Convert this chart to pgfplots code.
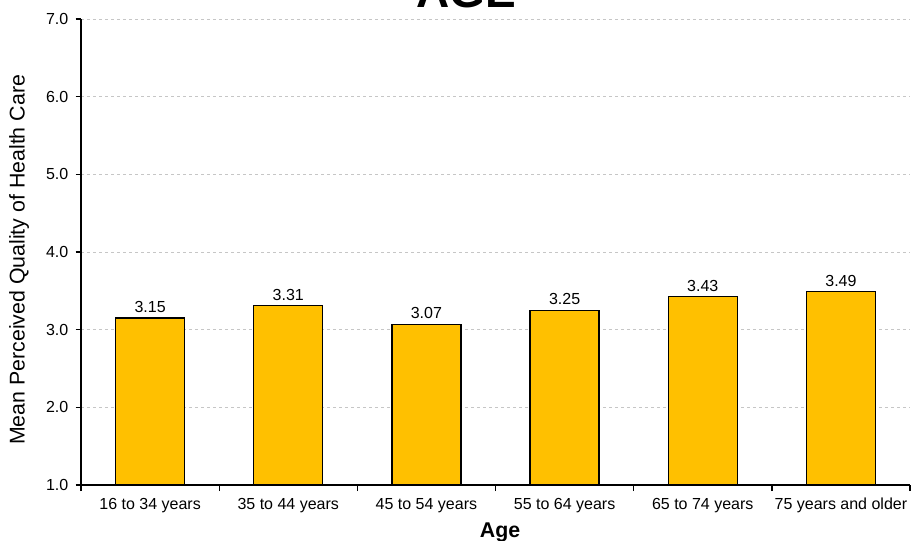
\documentclass[border=0pt]{standalone}
\usepackage{fontspec}
\setmainfont{Liberation Sans}
\usepackage{pgfplots}
\pgfplotsset{compat=1.18}
\definecolor{bargold}{HTML}{FFC000}
\begin{document}
\begin{tikzpicture}
\useasboundingbox (0pt,0pt) rectangle (684pt,405pt);
\clip (0pt,0pt) rectangle (684pt,405pt);
\begin{axis}[
  at={(60.75pt,41.25pt)}, anchor=south west,
  scale only axis, width=621.75pt, height=349.5pt,
  xmin=-0.5, xmax=5.5, ymin=1, ymax=7,
  axis x line=bottom, axis y line=left,
  axis line style={-, line width=1pt, black},
  tick align=outside,
  xtick={0,...,5},
  xticklabels={16 to 34 years,35 to 44 years,45 to 54 years,55 to 64 years,65 to 74 years,75 years and older},
  major x tick style={draw=none},
  minor xtick={-0.5,0.5,...,5.5},
  minor x tick style={draw=black, line width=1pt},
  minor tick length=4.5pt,
  ytick={1,...,7},
  major tick length=4pt,
  y tick style={draw=black, line width=1pt},
  yticklabel style={xshift=-2pt, /pgf/number format/.cd, fixed, fixed zerofill, precision=1},
  xticklabel style={yshift=-2.5pt},
  /pgf/number format/assume math mode=true,
  tick label style={font=\fontsize{12}{14}\selectfont},
  ymajorgrids,
  major grid style={gray!45, dash pattern=on 2.25pt off 2.25pt, line width=0.6pt},
  ylabel={Mean Perceived Quality of Health Care},
  every axis y label/.style={at={(axis description cs:-0.0748,0.483)}, anchor=center, rotate=90, font=\fontsize{16}{18}\selectfont},
  xlabel={Age},
  every axis x label/.style={at={(axis description cs:0.5055,-0.1116)}, anchor=base, font=\bfseries\fontsize{16}{18}\selectfont},
  ybar, bar width=0.5,
  nodes near coords,
  nodes near coords style={font=\fontsize{12}{14}\selectfont, /pgf/number format/.cd, fixed, fixed zerofill, precision=2, assume math mode=true},
]
\addplot[fill=bargold, draw=black, line width=1pt] coordinates {
  (0,3.15) (1,3.31) (2,3.07) (3,3.25) (4,3.43) (5,3.49)
};
\end{axis}
\node[anchor=base, inner sep=0pt, font=\bfseries\fontsize{34.5}{40}\selectfont] at (349.5pt,399pt) {AGE};
\end{tikzpicture}
\end{document}
